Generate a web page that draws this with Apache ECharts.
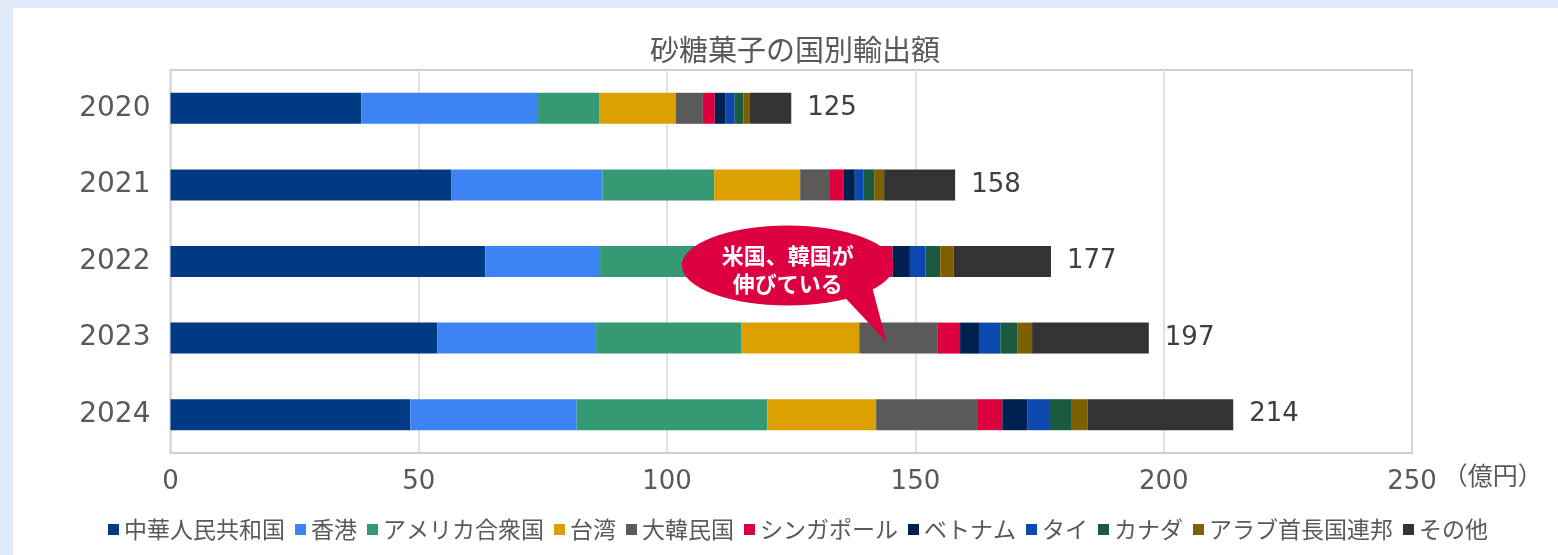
<!DOCTYPE html>
<html>
<head>
    <meta charset="utf-8">
    <title>砂糖菓子の国別輸出額</title>
    <script src="https://cdn.jsdelivr.net/npm/echarts@6/dist/echarts.min.js"></script>
    <style>
        html, body { margin: 0; padding: 0; background: #e0eafb; }
        #panel { position: absolute; left: 13px; top: 8px; right: 0; bottom: 0; background: #fff; }
        #main { position: absolute; left: 0; top: 0; width: 1558px; height: 555px; }
    </style>
</head>
<body>
<div id="panel"></div>
<div id="main"></div>
<script type="text/javascript">
    // 年（上から順）
    var years = ['2020', '2021', '2022', '2023', '2024'];
    // 各国の輸出額（億円）
    var china     = [38.4, 56.5, 63.4, 53.7, 48.3];
    var hongkong  = [35.6, 30.5, 23.1, 32.0, 33.5];
    var usa       = [12.3, 22.5, 25.0, 29.2, 38.4];
    var taiwan    = [15.5, 17.3, 18.0, 23.8, 21.9];
    var korea     = [5.4, 6.0, 12.0, 15.7, 20.5];
    var singapore = [2.4, 2.8, 3.9, 4.6, 4.9];
    var vietnam   = [2.2, 2.2, 3.5, 3.8, 5.0];
    var thailand  = [1.8, 1.8, 3.1, 4.3, 4.6];
    var canada    = [1.8, 2.1, 3.0, 3.5, 4.4];
    var uae       = [1.3, 2.0, 2.7, 2.9, 3.2];
    var others    = [8.3, 14.3, 19.6, 23.5, 29.3];
    // 合計（棒の右に表示）
    var totals    = [125, 158, 177, 197, 214];
    var xTicks    = [0, 50, 100, 150, 200, 250];

    var names = ['中華人民共和国', '香港', 'アメリカ合衆国', '台湾', '大韓民国', 'シンガポール',
                 'ベトナム', 'タイ', 'カナダ', 'アラブ首長国連邦', 'その他'];
    var values = [china, hongkong, usa, taiwan, korea, singapore, vietnam, thailand, canada, uae, others];
    var colors = ['#003a82', '#3d83f3', '#339a73', '#dba000', '#5b5959', '#dc0040',
                  '#00214f', '#0b48b0', '#1c5a40', '#7f6000', '#333333'];

    var numFont = 'DejaVu Sans, Noto Sans CJK JP';
    var jpFont = 'Noto Sans CJK JP';

    var series = [];
    for (var i = 0; i < names.length; i++) {
        var s = {
            name: names[i],
            type: 'bar',
            stack: 'total',
            barWidth: 31,
            data: values[i],
            itemStyle: { color: colors[i] }
        };
        if (i == names.length - 1) {
            s.label = {
                show: true,
                position: 'right',
                distance: 16,
                fontFamily: numFont,
                fontSize: 26,
                color: '#404040',
                formatter: function (p) { return totals[p.dataIndex]; }
            };
        }
        series.push(s);
    }

    var myChart = echarts.init(document.getElementById('main'));

    var option = {
        animation: false,
        color: colors,
        title: {
            text: '砂糖菓子の国別輸出額',
            left: 790,
            textAlign: 'center',
            top: 30,
            textStyle: { fontFamily: jpFont, fontSize: 29, fontWeight: 'normal', color: '#595959' }
        },
        legend: {
            left: 103,
            top: 513,
            icon: 'rect',
            itemWidth: 11,
            itemHeight: 11,
            itemGap: 10,
            textStyle: { fontFamily: jpFont, fontSize: 23, color: '#595959' },
            data: names
        },
        grid: {
            left: 170.5,
            right: 146,
            top: 70,
            bottom: 102,
            show: true,
            borderColor: '#d0d0d0',
            borderWidth: 2
        },
        xAxis: {
            type: 'value',
            min: xTicks[0],
            max: xTicks[xTicks.length - 1],
            interval: 50,
            name: '（億円）',
            nameLocation: 'end',
            nameGap: 2,
            nameTextStyle: { fontFamily: jpFont, fontSize: 25, color: '#595959', verticalAlign: 'top', padding: [10, 0, 0, 0] },
            axisLine: { show: false },
            axisTick: { show: false },
            axisLabel: { fontFamily: numFont, fontSize: 26, color: '#595959', margin: 16 },
            splitLine: { lineStyle: { color: '#d9d9d9', width: 1.5 } }
        },
        yAxis: {
            type: 'category',
            inverse: true,
            data: years,
            axisLine: { show: false },
            axisTick: { show: false },
            axisLabel: { fontFamily: numFont, fontSize: 28, color: '#595959', margin: 20 }
        },
        series: series
    };

    myChart.setOption(option);

    // 吹き出し（データ座標から位置を計算）
    function px(v, cat, dy) {
        var p = myChart.convertToPixel({ gridIndex: 0 }, [v, cat]);
        return [p[0], p[1] + dy];
    }
    var c = px(124.3, '2022', 4);
    var t1 = px(135.8, '2022', 36);
    var t2 = px(141.3, '2022', 26);
    var tip = px(144.2, '2023', 4);

    myChart.setOption({
        graphic: [
            {
                type: 'polygon',
                z: 100,
                shape: { points: [t1, t2, tip] },
                style: { fill: '#dc0040' }
            },
            {
                type: 'circle',
                z: 100,
                x: c[0],
                y: c[1],
                scaleY: 40 / 106,
                shape: { cx: 0, cy: 0, r: 106 },
                style: { fill: '#dc0040' }
            },
            {
                type: 'text',
                z: 101,
                x: c[0],
                y: c[1] - 10,
                style: {
                    text: '米国、韓国が',
                    fill: '#fff',
                    font: 'bold 22px "Noto Sans CJK JP"',
                    align: 'center',
                    verticalAlign: 'middle'
                }
            },
            {
                type: 'text',
                z: 101,
                x: c[0],
                y: c[1] + 18,
                style: {
                    text: '伸びている',
                    fill: '#fff',
                    font: 'bold 22px "Noto Sans CJK JP"',
                    align: 'center',
                    verticalAlign: 'middle'
                }
            }
        ]
    });
</script>
</body>
</html>
